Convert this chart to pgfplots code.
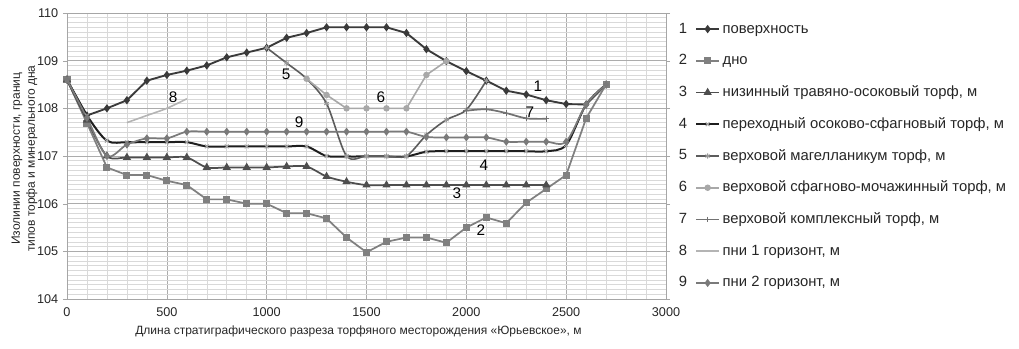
\documentclass[border=0pt]{standalone}
\usepackage{fontspec}
\setmainfont{Liberation Sans}
\usepackage{pgfplots}
\pgfplotsset{compat=1.18}
\definecolor{c1}{HTML}{3A3A3A}
\definecolor{c2}{HTML}{808080}
\definecolor{c3}{HTML}{4E4E4E}
\definecolor{c4}{HTML}{1E1E1E}
\definecolor{c5}{HTML}{5C5C5C}
\definecolor{c6}{HTML}{A8A8A8}
\definecolor{c7}{HTML}{727272}
\definecolor{c8}{HTML}{B4B4B4}
\definecolor{c9}{HTML}{7A7A7A}
\newcommand{\fs}{\fontsize{9.5}{11}\selectfont}
\newcommand{\fl}{\fontsize{9}{11.25}\selectfont}
\newcommand{\fg}{\fontsize{11.5}{13}\selectfont}
\newcommand{\fk}{\fontsize{11.1}{13}\selectfont}
\begin{document}
\begin{tikzpicture}
\begin{axis}[name=ax, scale only axis, width=449.25pt, height=214.5pt,
  xmin=0, xmax=3000, ymin=104, ymax=110,
  xtick={0,500,...,3000}, ytick={104,105,...,110},
  minor x tick num=4, minor y tick num=9,
  grid=both,
  major grid style={draw=gray!65, line width=0.5pt},
  minor grid style={draw=gray!30, line width=0.4pt},
  axis line style={draw=gray!70},
  tick align=outside, major tick length=3pt, minor tick length=0pt,
  x tick style={draw=none},
  y tick style={draw=gray!70},
  /pgf/number format/assume math mode=true,
  /pgf/number format/1000 sep={},
  tick label style={font=\fs, text=black!85},
  label style={font=\fl, text=black!85},
  xlabel={Длина стратиграфического разреза торфяного месторождения «Юрьевское», м},
  xlabel style={xshift=-6pt},
  ylabel={Изолинии поверхности, границ\\типов торфа и минерального дна},
  ylabel style={align=center, yshift=-7pt, xshift=-2pt},
  legend cell align=left,
  legend style={draw=none, fill=none, at={(1.0484,0.975)}, anchor=north west,
    font=\fk, text=black!85, inner sep=0pt, row sep=10.8pt, column sep=1pt,
    nodes={inner sep=1pt, text height=8.5pt, text depth=2.5pt}},
]
\addplot[c1, line width=1.4pt, mark=diamond*, mark size=2pt] coordinates {
(0,108.6) (100,107.85) (200,108.0) (300,108.17) (400,108.58) (500,108.7) (600,108.79)
(700,108.9) (800,109.07) (900,109.17) (1000,109.27) (1100,109.48) (1200,109.58)
(1300,109.7) (1400,109.7) (1500,109.7) (1600,109.7) (1700,109.58) (1800,109.24)
(1900,108.99) (2000,108.78) (2100,108.58) (2200,108.37) (2300,108.29) (2400,108.17)
(2500,108.09) (2600,108.08) (2700,108.5)};
\addlegendentry{поверхность}
\addplot[c2, line width=1.3pt, mark=square*, mark size=2pt] coordinates {
(0,108.6) (100,107.69) (200,106.76) (300,106.6) (400,106.6) (500,106.48) (600,106.39)
(700,106.09) (800,106.09) (900,106.0) (1000,106.0) (1100,105.8) (1200,105.8)
(1300,105.69) (1400,105.29) (1500,104.98) (1600,105.2) (1700,105.29) (1800,105.29)
(1900,105.18) (2000,105.5) (2100,105.71) (2200,105.59) (2300,106.02) (2400,106.31)
(2500,106.6) (2600,107.79) (2700,108.5)};
\addlegendentry{дно}
\addplot[c3, line width=1.3pt, smooth, mark=triangle*, mark size=2.3pt] coordinates {
(0,108.6) (100,107.75) (200,107.0) (300,106.97) (400,106.97) (500,106.97) (600,106.97)
(700,106.76) (800,106.76) (900,106.76) (1000,106.76) (1100,106.78) (1200,106.78)
(1300,106.57) (1400,106.46) (1500,106.39) (1600,106.39) (1700,106.39) (1800,106.39)
(1900,106.39) (2000,106.39) (2100,106.39) (2200,106.39) (2300,106.39) (2400,106.39)};
\addlegendentry{низинный травяно-осоковый торф, м}
\addplot[c4, line width=1.5pt, smooth, mark=x, mark size=2pt, mark options={draw=gray!70, line width=0.8pt}] coordinates {
(0,108.6) (100,107.85) (200,107.32) (300,107.29) (400,107.29) (500,107.29) (600,107.29)
(700,107.2) (800,107.2) (900,107.2) (1000,107.2) (1100,107.2) (1200,107.2)
(1300,107.0) (1400,106.99) (1500,106.99) (1600,106.99) (1700,106.99) (1800,107.09)
(1900,107.1) (2000,107.1) (2100,107.1) (2200,107.1) (2300,107.1) (2400,107.1)
(2500,107.23) (2600,108.08) (2700,108.5)};
\addlegendentry{переходный осоково-сфагновый торф, м}
\addplot[c5, line width=1.2pt, smooth, mark=asterisk, mark size=2pt, mark options={draw=gray!80, line width=0.7pt}] coordinates {
(1000,109.27) (1100,108.95) (1200,108.62) (1300,108.1) (1400,107.0) (1500,107.0)
(1600,107.0) (1700,107.0) (1800,107.44) (1900,107.76) (2000,107.97) (2100,108.58)};
\addlegendentry{верховой магелланикум торф, м}
\addplot[c6, line width=1.2pt, mark=*, mark size=1.8pt] coordinates {
(1200,108.62) (1300,108.28) (1400,108.0) (1500,108.0) (1600,108.0) (1700,108.0)
(1800,108.7) (1900,108.99)};
\addlegendentry{верховой сфагново-мочажинный торф, м}
\addplot[c7, line width=1.3pt, smooth, mark=+, mark size=2.2pt, mark options={line width=0.7pt}] coordinates {
(2000,107.95) (2100,107.98) (2200,107.9) (2300,107.79) (2400,107.78)};
\addlegendentry{верховой комплексный торф, м}
\addplot[c8, line width=1.2pt, smooth, no markers] coordinates {
(300,107.7) (400,107.85) (500,108.0) (600,108.2)};
\addlegendentry{пни 1 горизонт, м}
\addplot[c9, line width=1.3pt, smooth, mark=diamond*, mark size=2pt] coordinates {
(0,108.6) (100,107.8) (200,107.0) (300,107.24) (400,107.37) (500,107.37) (600,107.51)
(700,107.51) (800,107.51) (900,107.51) (1000,107.51) (1100,107.51) (1200,107.51)
(1300,107.51) (1400,107.51) (1500,107.51) (1600,107.51) (1700,107.51) (1800,107.4)
(1900,107.39) (2000,107.39) (2100,107.39) (2200,107.3) (2300,107.3) (2400,107.3)
(2500,107.3) (2600,108.08) (2700,108.5)};
\addlegendentry{пни 2 горизонт, м}
\node[font=\fg] at (axis cs:2358,108.47) {1};
\node[font=\fg] at (axis cs:2073,105.45) {2};
\node[font=\fg] at (axis cs:1953,106.22) {3};
\node[font=\fg] at (axis cs:2088,106.81) {4};
\node[font=\fg] at (axis cs:1097,108.72) {5};
\node[font=\fg] at (axis cs:1572,108.24) {6};
\node[font=\fg] at (axis cs:2318,107.92) {7};
\node[font=\fg] at (axis cs:531,108.24) {8};
\node[font=\fg] at (axis cs:1162,107.71) {9};
\end{axis}
\foreach \i in {1,...,9} {
  \node[font=\fk, text=black!85] at ([xshift=462pt, yshift={203.25pt-(\i-1)*23.8pt}]ax.south west) {\i};
}
\pgfresetboundingbox
\path ([xshift=-50.25pt, yshift=-37.5pt]ax.south west) rectangle ([xshift=264.75pt, yshift=9.75pt]ax.north east);
\end{tikzpicture}
\end{document}
